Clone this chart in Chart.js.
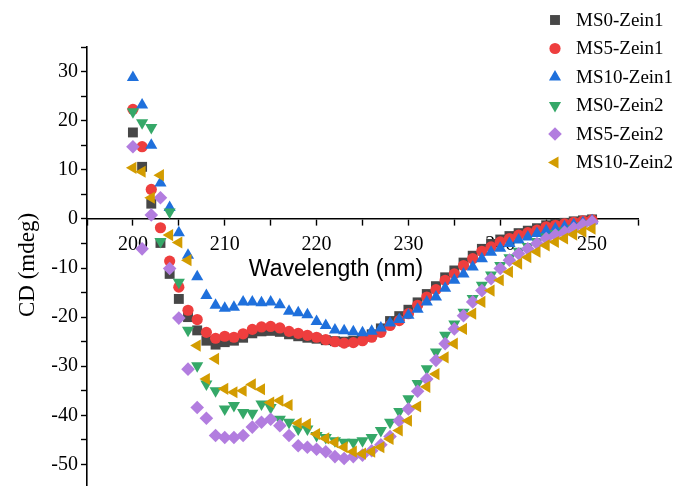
<!DOCTYPE html>
<html>
<head>
<meta charset="utf-8">
<script src="https://cdn.jsdelivr.net/npm/chart.js@4/dist/chart.umd.min.js"></script>
<style>
  html, body { margin: 0; padding: 0; background: #fff; overflow: hidden; }
  #wrap { width: 675px; height: 496px; position: relative; }
</style>
</head>
<body>
<div id="wrap"><canvas id="cd"></canvas></div>
<script>
// CD spectra, wavelength in nm, CD in mdeg
const wavelength = [
    200, 201, 202, 203, 204, 205, 206, 207, 208, 209,
    210, 211, 212, 213, 214, 215, 216, 217, 218, 219,
    220, 221, 222, 223, 224, 225, 226, 227, 228, 229,
    230, 231, 232, 233, 234, 235, 236, 237, 238, 239,
    240, 241, 242, 243, 244, 245, 246, 247, 248, 249, 250
];

const ms0Zein1 = [
    17.6, 10.6, 3.1, -4.9, -11.2, -16.3, -20.0, -22.7, -24.8, -25.6,
    -25.1, -24.8, -24.2, -23.3, -22.9, -22.8, -23.0, -23.5, -23.9, -24.2,
    -24.4, -24.7, -24.9, -25.0, -24.8, -24.3, -23.5, -22.3, -20.8, -19.8,
    -18.5, -17.0, -15.3, -13.7, -11.9, -10.5, -8.9, -7.5, -6.1, -5.1,
    -4.2, -3.5, -2.9, -2.4, -1.9, -1.3, -1.0, -0.8, -0.5, -0.3, -0.1
];
const ms5Zein1 = [
    22.3, 14.7, 6.0, -1.8, -8.6, -13.9, -18.6, -20.5, -23.1, -24.3,
    -23.9, -24.1, -23.4, -22.5, -22.0, -21.9, -22.2, -22.9, -23.3, -23.7,
    -24.1, -24.6, -25.0, -25.3, -25.2, -24.8, -24.1, -23.1, -21.7, -20.7,
    -19.3, -17.6, -15.9, -14.4, -12.5, -11.2, -9.5, -8.1, -6.6, -5.7,
    -4.7, -4.0, -3.3, -2.8, -2.3, -1.6, -1.3, -1.0, -0.7, -0.4, -0.2
];
const ms10Zein1 = [
    28.8, 23.2, 15.0, 7.3, 2.3, -2.8, -7.4, -11.8, -15.6, -17.6,
    -18.2, -18.0, -16.9, -16.9, -17.1, -16.9, -17.5, -18.8, -19.1, -19.5,
    -20.9, -21.7, -22.6, -22.8, -23.0, -23.2, -22.9, -22.2, -21.2, -20.5,
    -19.6, -18.4, -16.9, -15.9, -14.1, -12.5, -11.2, -9.8, -8.1, -6.8,
    -6.0, -5.0, -4.3, -3.7, -3.0, -2.4, -2.0, -1.6, -1.2, -0.8, -0.4
];
const ms0Zein2 = [
    21.8, 19.6, 18.6, -4.6, 1.4, -12.9, -22.7, -29.9, -33.6, -35.0,
    -38.7, -38.0, -39.4, -39.6, -37.7, -38.4, -40.8, -41.4, -42.8, -42.8,
    -44.1, -44.5, -45.2, -45.5, -45.5, -45.2, -44.5, -43.1, -41.4, -39.2,
    -36.6, -33.5, -30.5, -27.1, -23.7, -21.4, -19.0, -16.2, -13.5, -11.4,
    -9.5, -7.9, -6.6, -5.6, -4.6, -3.7, -3.0, -2.4, -1.9, -1.4, -1.0
];
const ms5Zein2 = [
    14.7, -6.1, 0.8, 4.3, -10.1, -20.2, -30.6, -38.4, -40.6, -44.1,
    -44.5, -44.5, -44.1, -42.4, -41.4, -40.8, -42.1, -44.1, -46.2, -46.5,
    -46.9, -47.4, -48.4, -48.8, -48.4, -48.1, -47.2, -46.0, -44.3, -41.1,
    -38.7, -35.1, -32.6, -28.8, -25.4, -22.4, -19.7, -16.9, -14.6, -12.2,
    -10.1, -8.4, -7.1, -6.1, -5.0, -4.0, -3.3, -2.7, -1.9, -1.2, -0.6
];
const ms10Zein2 = [
    10.4, 9.6, 4.3, 8.9, -3.3, -4.8, -8.4, -25.8, -32.6, -28.5,
    -34.6, -35.3, -35.0, -33.7, -34.7, -37.4, -37.0, -37.9, -41.6, -41.8,
    -43.8, -44.7, -45.5, -46.5, -47.4, -47.8, -47.4, -46.5, -44.8, -43.1,
    -41.1, -38.2, -34.2, -31.6, -28.2, -25.4, -22.4, -19.3, -16.9, -14.6,
    -12.5, -10.8, -9.1, -7.8, -6.7, -5.4, -4.7, -4.0, -3.2, -2.6, -2.0
];

const seriesNames = ['MS0-Zein1', 'MS5-Zein1', 'MS10-Zein1', 'MS0-Zein2', 'MS5-Zein2', 'MS10-Zein2'];
const seriesValues = [ms0Zein1, ms5Zein1, ms10Zein1, ms0Zein2, ms5Zein2, ms10Zein2];

// marker look per series (Origin style symbols)
const markers = [
    { color: '#474747', style: 'rect', radius: 7, rotation: 0 },
    { color: '#ee3e3e', style: 'circle', radius: 5.6, rotation: 0 },
    { color: '#1f70dc', style: 'triangle', radius: 7, rotation: 0 },
    { color: '#35a868', style: 'triangle', radius: 7, rotation: 180 },
    { color: '#b27ddf', style: 'rectRot', radius: 6.8, rotation: 0 },
    { color: '#d39c00', style: 'triangle', radius: 7, rotation: -90 }
];

const serif = "'Liberation Serif', 'Times New Roman', serif";
const sans = "'Liberation Sans', Arial, sans-serif";

const datasets = seriesNames.map((name, i) => ({
    label: name,
    data: wavelength.map((w, k) => ({ x: w, y: seriesValues[i][k] })),
    pointStyle: markers[i].style,
    pointRotation: markers[i].rotation,
    pointRadius: markers[i].radius,
    pointBackgroundColor: markers[i].color,
    pointBorderWidth: 0,
    pointBorderColor: markers[i].color,
    showLine: false,
    // later series are drawn on top, like Origin
    order: seriesNames.length - i
}));

// axis titles and legend drawn on top of everything
const annotate = {
    id: 'annotate',
    afterDraw(chart) {
        const ctx = chart.ctx;
        ctx.save();
        ctx.fillStyle = '#000';

        ctx.font = '23px ' + sans;
        ctx.textAlign = 'center';
        ctx.textBaseline = 'middle';
        ctx.fillText('Wavelength (nm)', 336, 270);

        ctx.save();
        ctx.translate(28, 265);
        ctx.rotate(-Math.PI / 2);
        ctx.font = '23px ' + serif;
        ctx.fillText('CD (mdeg)', 0, 0);
        ctx.restore();

        ctx.font = '19px ' + serif;
        ctx.textAlign = 'left';
        seriesNames.forEach((name, i) => {
            const y = 20 + i * 28.5;
            const m = markers[i];
            ctx.fillStyle = m.color;
            Chart.helpers.drawPoint(ctx, {
                pointStyle: m.style,
                rotation: m.rotation,
                radius: m.radius,
                borderWidth: 0
            }, 555, y);
            ctx.fillStyle = '#000';
            ctx.fillText(name, 576, y + 1);
        });
        ctx.restore();
    }
};

new Chart(document.getElementById('cd'), {
    type: 'scatter',
    data: { datasets },
    options: {
        responsive: true,
        maintainAspectRatio: false,
        animation: false,
        layout: { padding: { left: 0, right: 37, top: 47, bottom: 0 } },
        plugins: {
            legend: { display: false },
            tooltip: { enabled: false }
        },
        scales: {
            x: {
                type: 'linear',
                position: { y: 0 },
                min: 195,
                max: 255,
                afterFit: s => { s.height = 0; s.paddingLeft = 0; s.paddingRight = 0; },
                border: { display: true, color: '#000', width: 1.6 },
                grid: { drawOnChartArea: false, drawTicks: true, tickLength: 6, color: '#000', tickWidth: 1.4 },
                ticks: {
                    stepSize: 5,
                    autoSkip: false,
                    maxRotation: 0,
                    padding: 8,
                    color: '#000',
                    font: { family: serif, size: 20 },
                    callback: v => (v % 10 === 0 ? String(v) : '')
                }
            },
            y: {
                type: 'linear',
                min: -55,
                max: 35,
                afterFit: s => { s.width = 87; s.paddingTop = 0; s.paddingBottom = 0; },
                border: { display: true, color: '#000', width: 1.6 },
                grid: { drawOnChartArea: false, drawTicks: true, tickLength: 6, color: '#000', tickWidth: 1.4 },
                ticks: {
                    stepSize: 5,
                    autoSkip: false,
                    padding: 3,
                    color: '#000',
                    font: { family: serif, size: 20 },
                    callback: v => (v % 10 === 0 ? String(v) : '')
                }
            }
        }
    },
    plugins: [annotate]
});
</script>
</body>
</html>
